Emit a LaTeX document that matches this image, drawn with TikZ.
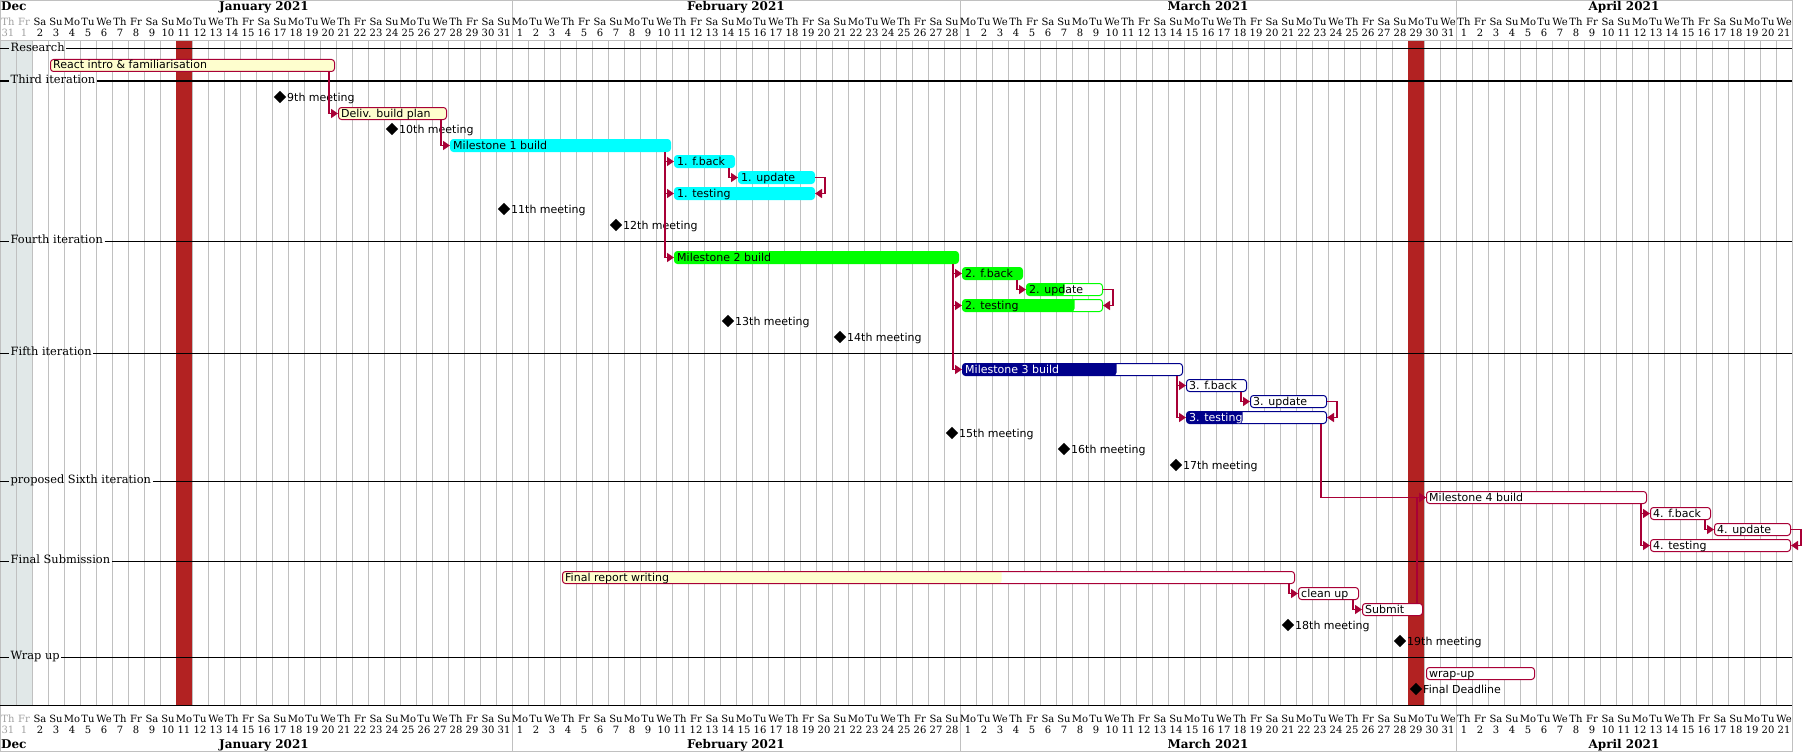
\documentclass[tikz,border=0pt]{standalone}
\usepackage{fontspec}
\setmainfont{DejaVu Sans}
\newfontfamily\seriffont{DejaVu Serif}
\usetikzlibrary{shapes.geometric,arrows.meta}
\definecolor{crim}{HTML}{A80036}
\definecolor{gyellow}{HTML}{FEFECE}
\definecolor{fire}{HTML}{B22222}
\definecolor{gridgrey}{HTML}{C0C0C0}
\definecolor{shadec}{HTML}{E1E8E8}
\definecolor{navyc}{HTML}{00008B}
\definecolor{cyanc}{HTML}{00FFFF}
\definecolor{limec}{HTML}{00FF00}
\definecolor{hdrgrey}{HTML}{A0A0A0}
\newcommand\gdayname[1]{\ifcase#1 Th\or Fr\or Sa\or Su\or Mo\or Tu\or We\fi}
% task: name, d1, d2, row y, fill colour, border colour, fraction, text colour, label
\newcommand\gtask[9]{%
  \pgfmathsetmacro\gw{(#3-#2+1)*16-4}%
  \pgfmathsetmacro\gf{\gw*#7}%
  \node[gbar, draw=#6, minimum width=\gw pt,
        path picture={\fill[#5] (path picture bounding box.south west) rectangle ++(\gf pt,20pt);}]
        (#1) at ({16*#2+2},{#4+0.5}) {};
  \node[glabel, text=#8] (#1-t) at ({16*#2+5},{#4+4}) {#9};
}
% milestone: name, day, row y, label
\newcommand\gmile[4]{%
  \node[gdia] (#1) at ({16*#2+8},#3) {};
  \node[glabel] (#1-t) at ({16*#2+15},{#3+4}) {#4};
}
% separator: name, y, label
\newcommand\gsep[3]{%
  \node[seplabel] (#1) at (9,{#2+2.5}) {#3};
  \coordinate (#1-a) at (0,#2);
  \coordinate (#1-b) at (1792,#2);
  \draw[sepline] (#1-a) -- (#1-a -| #1.west);
  \draw[sepline] (#1-a -| #1.east) -- (#1-b);
}
\begin{document}
\begin{tikzpicture}[x=1pt,y=-1pt,
  gbar/.style={rectangle, rounded corners=3pt, minimum height=12pt, inner sep=0pt,
               anchor=west, line width=1pt, fill=white},
  glabel/.style={anchor=base west, inner sep=0pt, font=\fontsize{11}{13}\selectfont},
  gdia/.style={diamond, fill=black, minimum width=12.5pt, minimum height=12.5pt, inner sep=0pt},
  seplabel/.style={anchor=base west, inner xsep=1.5pt, inner ysep=0pt,
                   font=\seriffont\fontsize{11.4}{13}\selectfont},
  sepline/.style={draw=black, line width=1pt},
  gridl/.style={draw=gridgrey, line width=1pt},
  hdr/.style={anchor=base, inner sep=0pt, font=\seriffont\fontsize{10}{12}\selectfont},
  mon/.style={inner sep=0pt, font=\seriffont\bfseries\fontsize{12}{14}\selectfont},
  conn/.style={draw=crim, line width=1.5pt, -{Triangle[length=7pt,width=9pt]}}]
\useasboundingbox (0,0) rectangle (1807,752);
% background shading of the two first days
\fill[shadec] (0,41) rectangle (32,705);
% day grid
\foreach \dd in {0,...,112} {\draw[gridl] ({16*\dd},41) -- ({16*\dd},705);}
% closed days
\fill[fire] (176,41) rectangle (192,705);
\fill[fire] (1408,41) rectangle (1424,705);
% header frame
\draw[gridl] (0,0.5) -- (1792,0.5);
\draw[gridl] (0,41) -- (1792,41);
\draw[gridl] (0,751.5) -- (1792,751.5);
\draw[gridl] (0.5,0) -- (0.5,41);
\draw[gridl] (0.5,705) -- (0.5,752);
\foreach \mx in {512,960,1456,1792} {
  \draw[gridl] (\mx,0) -- (\mx,41);
  \draw[gridl] (\mx,705) -- (\mx,752);
}
% header texts
\foreach \dd in {0,...,111} {
  \pgfmathtruncatemacro\wi{mod(\dd,7)}
  \ifnum\dd=0 \def\gnum{31}\else\ifnum\dd<32 \edef\gnum{\dd}\else\ifnum\dd<60 \edef\gnum{\the\numexpr\dd-31\relax}\else\ifnum\dd<91 \edef\gnum{\the\numexpr\dd-59\relax}\else\edef\gnum{\the\numexpr\dd-90\relax}\fi\fi\fi\fi
  \ifnum\dd<2 \def\hc{hdrgrey}\else\def\hc{black}\fi
  \node[hdr, text=\hc] (tn\dd) at ({16*\dd+8},25.3) {\gdayname{\wi}};
  \node[hdr, text=\hc] (tm\dd) at ({16*\dd+8},36.7) {\gnum};
  \node[hdr, text=\hc] (bn\dd) at ({16*\dd+8},722.3) {\gdayname{\wi}};
  \node[hdr, text=\hc] (bm\dd) at ({16*\dd+8},733.7) {\gnum};
}
\node[mon, anchor=base west] (tDec) at (1,11) {Dec};
\node[mon, anchor=base] (tJan) at (264,11) {January 2021};
\node[mon, anchor=base] (tFeb) at (736,11) {February 2021};
\node[mon, anchor=base] (tMar) at (1208,11) {March 2021};
\node[mon, anchor=base] (tApr) at (1624,11) {April 2021};
\node[mon, anchor=base west] (bDec) at (1,748.3) {Dec};
\node[mon, anchor=base] (bJan) at (264,748.3) {January 2021};
\node[mon, anchor=base] (bFeb) at (736,748.3) {February 2021};
\node[mon, anchor=base] (bMar) at (1208,748.3) {March 2021};
\node[mon, anchor=base] (bApr) at (1624,748.3) {April 2021};
% separators
\gsep{s1}{49}{Research}
\gsep{s2}{81}{Third iteration}
\gsep{s3}{241}{Fourth iteration}
\gsep{s4}{353}{Fifth iteration}
\gsep{s5}{481}{proposed Sixth iteration}
\gsep{s6}{561}{Final Submission}
\gsep{s7}{657}{Wrap up}
\draw[sepline] (0,705) -- (1792,705);
% tasks
\gtask{ri}{3}{20}{65}{gyellow}{crim}{1}{black}{React intro \& familiarisation}
\gmile{m9}{17}{97}{9th meeting}
\gtask{dbp}{21}{27}{113}{gyellow}{crim}{1}{black}{Deliv. build plan}
\gmile{m10}{24}{129}{10th meeting}
\gtask{ms1}{28}{41}{145}{cyanc}{cyanc}{1}{black}{Milestone 1 build}
\gtask{fb1}{42}{45}{161}{cyanc}{cyanc}{1}{black}{1. f.back}
\gtask{up1}{46}{50}{177}{cyanc}{cyanc}{1}{black}{1. update}
\gtask{te1}{42}{50}{193}{cyanc}{cyanc}{1}{black}{1. testing}
\gmile{m11}{31}{209}{11th meeting}
\gmile{m12}{38}{225}{12th meeting}
\gtask{ms2}{42}{59}{257}{limec}{limec}{1}{black}{Milestone 2 build}
\gtask{fb2}{60}{63}{273}{limec}{limec}{1}{black}{2. f.back}
\gtask{up2}{64}{68}{289}{limec}{limec}{0.5}{black}{2. update}
\gtask{te2}{60}{68}{305}{limec}{limec}{0.8}{black}{2. testing}
\gmile{m13}{45}{321}{13th meeting}
\gmile{m14}{52}{337}{14th meeting}
\gtask{ms3}{60}{73}{369}{navyc}{navyc}{0.7}{white}{Milestone 3 build}
\gtask{fb3}{74}{77}{385}{navyc}{navyc}{0}{black}{3. f.back}
\gtask{up3}{78}{82}{401}{navyc}{navyc}{0}{black}{3. update}
\gtask{te3}{74}{82}{417}{navyc}{navyc}{0.4}{white}{3. testing}
\gmile{m15}{59}{433}{15th meeting}
\gmile{m16}{66}{449}{16th meeting}
\gmile{m17}{73}{465}{17th meeting}
\gtask{ms4}{89}{102}{497}{white}{crim}{0}{black}{Milestone 4 build}
\gtask{fb4}{103}{106}{513}{white}{crim}{0}{black}{4. f.back}
\gtask{up4}{107}{111}{529}{white}{crim}{0}{black}{4. update}
\gtask{te4}{103}{111}{545}{white}{crim}{0}{black}{4. testing}
\gtask{frw}{35}{80}{577}{gyellow}{crim}{0.6}{black}{Final report writing}
\gtask{cu}{81}{84}{593}{white}{crim}{0}{black}{clean up}
\gtask{sub}{85}{88}{609}{white}{crim}{0}{black}{Submit}
\gmile{m18}{80}{625}{18th meeting}
\gmile{m19}{87}{641}{19th meeting}
\gtask{wu}{89}{95}{673}{white}{crim}{0}{black}{wrap-up}
\gmile{fd}{88}{689}{Final Deadline}
% connectors
\draw[conn] ([xshift=-6pt]ri.south east) |- (dbp.west);
\draw[conn] ([xshift=-6pt]dbp.south east) |- (ms1.west);
\draw[conn] ([xshift=-6pt]ms1.south east) |- (fb1.west);
\draw[conn] ([xshift=-6pt]ms1.south east) |- (te1.west);
\draw[conn] ([xshift=-6pt]ms1.south east) |- (ms2.west);
\draw[conn] ([xshift=-6pt]fb1.south east) |- (up1.west);
\draw[conn] (up1.east) -- ++(10,0) |- (te1.east);
\draw[conn] ([xshift=-6pt]ms2.south east) |- (fb2.west);
\draw[conn] ([xshift=-6pt]ms2.south east) |- (te2.west);
\draw[conn] ([xshift=-6pt]ms2.south east) |- (ms3.west);
\draw[conn] ([xshift=-6pt]fb2.south east) |- (up2.west);
\draw[conn] (up2.east) -- ++(10,0) |- (te2.east);
\draw[conn] ([xshift=-6pt]ms3.south east) |- (fb3.west);
\draw[conn] ([xshift=-6pt]ms3.south east) |- (te3.west);
\draw[conn] ([xshift=-6pt]fb3.south east) |- (up3.west);
\draw[conn] (up3.east) -- ++(10,0) |- (te3.east);
\draw[conn] ([xshift=-6pt]te3.south east) |- (ms4.west);
\draw[conn] ([xshift=-6pt]ms4.south east) |- (fb4.west);
\draw[conn] ([xshift=-6pt]ms4.south east) |- (te4.west);
\draw[conn] ([xshift=-6pt]fb4.south east) |- (up4.west);
\draw[conn] (up4.east) -- ++(10,0) |- (te4.east);
\draw[conn] ([xshift=-6pt]frw.south east) |- (cu.west);
\draw[conn] ([xshift=-6pt]cu.south east) |- (sub.west);
\draw[conn] ([xshift=-6pt]sub.north east) |- (ms4.west);
\end{tikzpicture}
\end{document}
